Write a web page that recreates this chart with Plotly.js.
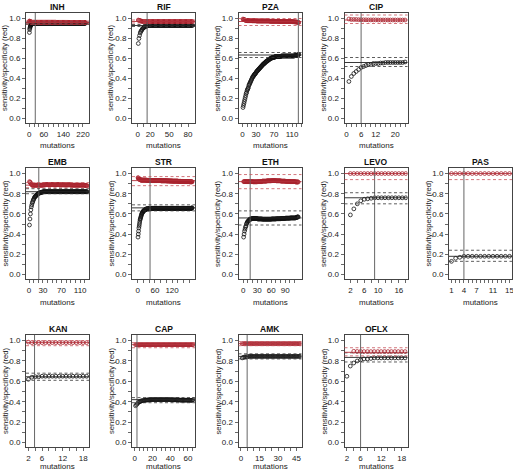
<!DOCTYPE html>
<html><head><meta charset="utf-8">
<script src="https://cdn.plot.ly/plotly-3.0.1.min.js"></script>
<style>html,body{margin:0;padding:0;background:#fff}#chart{width:513px;height:473px}</style>
</head><body><div id="chart"></div>
<script>
// ---------- data ----------
const panels=['INH','RIF','PZA','CIP','EMB','STR','ETH','LEVO','PAS','KAN','CAP','AMK','OFLX'];

const inhSens=[.86,.89,.905,.915,.925,.93,.935,.94,.94,.945,
.945,.948,.95,.95,.95,.95,.952,.952,.952,.952,
.953,.953,.953,.953,.953,.953,.953,.953,.953,.953,
.953,.953,.953,.953,.953,.953,.953,.953,.953,.953,
.953,.953,.953,.953,.953,.953,.953,.953,.953,.953,
.953,.953,.953,.953,.953,.953,.953,.953,.953,.953,
.953,.953,.953,.953,.953,.953,.953,.953,.953,.953,
.953,.953,.953,.953,.953,.953,.953,.953,.953,.953,
.953,.953,.953,.953,.953,.953,.953,.953,.953,.953,
.953,.953,.953,.953,.953,.953,.953,.953,.953,.953,
.953,.953,.953,.953,.953,.953,.953,.953,.953,.953,
.953,.953,.953,.953,.953,.953,.953,.953,.953,.953,
.953,.953,.953,.953,.953,.953,.953,.953,.953,.953,
.953,.953,.953,.953,.953,.953,.953,.953,.953,.953,
.953,.953,.953,.953,.953,.953,.953,.953,.953,.953,
.953,.953,.953,.953,.953,.953,.953,.953,.953,.953,
.953,.953,.953,.953,.953,.953,.953,.953,.953,.953,
.953,.953,.953,.953,.953,.953,.953,.953,.953,.953,
.953,.953,.953,.953,.953,.953,.953,.953,.953,.953,
.953,.953,.953,.953,.953,.953,.953,.953,.953,.953,
.953,.953,.953,.953,.953,.953,.953,.953,.953,.953,
.953,.953,.953,.953,.953,.953,.953,.953,.953,.953,
.953,.953,.953,.953,.953,.953,.953,.953,.953,.953];
const inhSpec=[.975,.972,.97,.968,.967,.966,.965,.964,.963,.963,
.962,.962,.962,.962,.962,.962,.962,.962,.962,.962,
.962,.962,.962,.962,.962,.962,.962,.962,.962,.962,
.962,.962,.962,.962,.962,.962,.962,.962,.962,.962,
.962,.962,.962,.962,.962,.962,.962,.962,.962,.962,
.962,.962,.962,.962,.962,.962,.962,.962,.962,.962,
.962,.962,.962,.962,.962,.962,.962,.962,.962,.962,
.962,.962,.962,.962,.962,.962,.962,.962,.962,.962,
.962,.962,.962,.962,.962,.962,.962,.962,.962,.962,
.962,.962,.962,.962,.962,.962,.962,.962,.962,.962,
.962,.962,.962,.962,.962,.962,.962,.962,.962,.962,
.961,.961,.961,.961,.961,.961,.961,.961,.961,.961,
.961,.961,.961,.961,.961,.961,.961,.961,.961,.961,
.961,.961,.961,.961,.961,.961,.961,.961,.961,.961,
.961,.961,.961,.961,.961,.961,.961,.961,.961,.961,
.961,.961,.961,.961,.961,.961,.961,.961,.961,.961,
.96,.96,.96,.96,.96,.96,.96,.96,.96,.96,
.96,.96,.96,.96,.96,.96,.96,.96,.96,.96,
.96,.96,.96,.96,.96,.96,.96,.96,.96,.96,
.96,.96,.96,.96,.96,.96,.96,.96,.96,.96,
.96,.96,.96,.96,.96,.96,.96,.96,.96,.96,
.96,.96,.96,.96,.96,.96,.96,.96,.96,.96,
.96,.96,.96,.96,.96,.96,.96,.96,.96,.96];

const rifSens=[.75,.80,.83,.855,.87,.88,.89,.90,.905,.91,
.915,.92,.92,.925,.925,.928,.93,.93,.93,.93,
.93,.93,.93,.93,.93,.93,.93,.93,.93,.93,
.93,.93,.93,.93,.93,.93,.93,.93,.93,.93,
.93,.93,.93,.93,.93,.93,.93,.93,.93,.93,
.93,.93,.93,.93,.93,.93,.93,.93,.93,.93,
.93,.93,.93,.93,.93,.93,.93,.93,.93,.93,
.93,.93,.93,.93,.93,.93,.93,.93,.93,.93,
.93,.93,.93,.93,.93,.93,.93];
const rifSpec=[.985,.982,.98,.978,.975,.973,.972,.971,.97,.97,
.97,.97,.97,.97,.97,.97,.97,.97,.97,.97,
.97,.97,.97,.97,.97,.97,.97,.97,.97,.97,
.97,.97,.97,.97,.97,.97,.97,.97,.97,.97,
.97,.97,.97,.97,.97,.97,.97,.97,.97,.97,
.97,.97,.97,.97,.97,.97,.97,.97,.97,.97,
.97,.97,.97,.97,.97,.97,.97,.97,.97,.97,
.97,.97,.97,.97,.97,.97,.97,.97,.97,.97,
.97,.97,.97,.97,.97,.97,.97];

const pzaSens=[.11,.13,.15,.17,.19,.21,.23,.25,.26,.28,
.29,.30,.31,.33,.34,.35,.36,.37,.38,.39,
.40,.41,.42,.42,.43,.44,.44,.45,.45,.46,
.47,.47,.48,.48,.49,.49,.50,.50,.51,.51,
.52,.52,.53,.53,.54,.54,.55,.55,.55,.56,
.56,.57,.57,.57,.58,.58,.58,.59,.59,.59,
.60,.60,.60,.60,.61,.61,.61,.61,.61,.61,
.61,.62,.62,.62,.62,.62,.62,.62,.62,.62,
.62,.62,.62,.62,.62,.625,.625,.625,.625,.625,
.625,.625,.625,.625,.625,.625,.625,.625,.625,.625,
.625,.625,.625,.625,.625,.625,.625,.625,.625,.625,
.625,.625,.625,.625,.625,.63,.63,.63,.63,.63,
.63,.635,.635,.64,.64];
const pzaSpec=[.995,.99,.99,.988,.985,.984,.982,.98,.98,.98,
.978,.978,.978,.978,.978,.978,.978,.978,.978,.978,
.977,.977,.977,.977,.977,.977,.977,.977,.977,.977,
.975,.975,.975,.975,.975,.975,.975,.975,.975,.975,
.975,.975,.975,.975,.975,.975,.975,.975,.975,.975,
.975,.975,.975,.975,.975,.975,.975,.975,.975,.975,
.972,.972,.972,.972,.972,.972,.972,.972,.972,.972,
.972,.972,.972,.972,.972,.972,.972,.972,.972,.972,
.97,.97,.97,.97,.97,.97,.97,.97,.97,.97,
.97,.97,.97,.97,.97,.97,.97,.97,.97,.97,
.97,.97,.97,.97,.97,.97,.97,.97,.97,.97,
.968,.968,.968,.967,.967,.966,.966,.965,.965,.965,
.964,.963,.962,.961,.96];

const cipSens=[.37,.42,.45,.47,.49,.51,.52,.53,.54,.54,.55,.55,.55,.555,.555,.56,.56,.56,.56,.56,.56,.56,.56,.565];
const cipSpec=[.995,.99,.99,.99,.988,.988,.987,.987,.986,.986,.986,.986,.985,.985,.985,.985,.985,.985,.985,.985,.985,.985,.985,.985];

const embSens=[.49,.55,.60,.64,.67,.69,.71,.72,.735,.745,
.755,.765,.77,.775,.78,.785,.79,.795,.80,.80,
.805,.805,.81,.81,.81,.815,.815,.815,.815,.82,
.82,.82,.82,.82,.82,.82,.82,.82,.82,.82,
.82,.82,.82,.82,.82,.82,.82,.82,.82,.82,
.82,.82,.82,.82,.82,.82,.82,.82,.82,.82,
.82,.82,.82,.82,.82,.82,.82,.82,.82,.82,
.82,.82,.82,.82,.82,.82,.82,.82,.82,.82,
.82,.82,.82,.82,.82,.82,.82,.82,.82,.82,
.82,.82,.82,.82,.82,.82,.82,.82,.82,.82,
.82,.82,.82,.82,.82,.82,.82,.82,.82,.82,
.82,.82,.82,.82,.82,.82,.82,.82,.82,.82,
.82,.82,.82,.82,.82];
const embSpec=[.92,.915,.91,.90,.895,.89,.885,.885,.88,.88,
.885,.885,.885,.885,.885,.885,.885,.885,.885,.885,
.885,.885,.885,.885,.885,.885,.885,.885,.885,.885,
.89,.89,.89,.89,.89,.89,.89,.89,.89,.89,
.89,.89,.89,.89,.89,.89,.89,.89,.89,.89,
.89,.89,.89,.89,.89,.89,.89,.89,.89,.89,
.89,.89,.89,.89,.89,.89,.89,.89,.89,.89,
.888,.888,.888,.888,.888,.888,.888,.888,.888,.888,
.888,.888,.888,.888,.888,.888,.888,.888,.888,.888,
.885,.885,.885,.885,.885,.885,.885,.885,.885,.885,
.885,.885,.885,.885,.885,.885,.885,.885,.885,.885,
.885,.885,.885,.885,.885,.885,.885,.885,.885,.885,
.882,.882,.88,.88,.88];

const strSens=[.37,.40,.43,.46,.48,.50,.52,.54,.55,.56,
.57,.58,.59,.60,.605,.61,.615,.62,.625,.63,
.63,.635,.635,.64,.64,.64,.645,.645,.645,.65,
.65,.65,.65,.65,.65,.65,.65,.65,.65,.65,
.655,.655,.655,.655,.655,.655,.655,.655,.655,.655,
.655,.655,.655,.655,.655,.655,.655,.655,.655,.655,
.655,.655,.655,.655,.655,.655,.655,.655,.655,.655,
.655,.655,.655,.655,.655,.655,.655,.655,.655,.655,
.655,.655,.655,.655,.655,.655,.655,.655,.655,.655,
.655,.655,.655,.655,.655,.655,.655,.655,.655,.655,
.655,.655,.655,.655,.655,.655,.655,.655,.655,.655,
.655,.655,.655,.655,.655,.655,.655,.655,.655,.655,
.655,.655,.655,.655,.655,.655,.655,.655,.655,.655,
.655,.655,.655,.655,.655,.655,.655,.655,.655,.655,
.655,.655,.655,.655,.655,.655,.655,.655,.655,.655,
.655,.655,.655,.655,.655,.655,.655,.655,.655,.655,
.655,.655,.655,.655,.655,.655,.655,.655,.655,.655,
.655,.655,.655,.655,.655,.655,.655,.655,.655,.655,
.655,.655,.655,.655,.655,.655,.655,.655,.66,.66];
const strSpec=[.96,.955,.95,.95,.945,.945,.94,.94,.94,.937,
.935,.935,.935,.935,.935,.935,.935,.935,.935,.935,
.935,.935,.935,.935,.935,.935,.935,.935,.935,.935,
.933,.933,.933,.933,.933,.933,.933,.933,.933,.933,
.932,.932,.932,.932,.932,.932,.932,.932,.932,.932,
.93,.93,.93,.93,.93,.93,.93,.93,.93,.93,
.93,.93,.93,.93,.93,.93,.93,.93,.93,.93,
.93,.93,.93,.93,.93,.93,.93,.93,.93,.93,
.928,.928,.928,.928,.928,.928,.928,.928,.928,.928,
.928,.928,.928,.928,.928,.928,.928,.928,.928,.928,
.927,.927,.927,.927,.927,.927,.927,.927,.927,.927,
.926,.926,.926,.926,.926,.926,.926,.926,.926,.926,
.925,.925,.925,.925,.925,.925,.925,.925,.925,.925,
.925,.925,.925,.925,.925,.925,.925,.925,.925,.925,
.923,.923,.923,.923,.923,.923,.923,.923,.923,.923,
.922,.922,.922,.922,.922,.922,.922,.922,.922,.922,
.92,.92,.92,.92,.92,.92,.92,.92,.92,.92,
.92,.92,.92,.92,.92,.92,.92,.92,.92,.92,
.918,.918,.918,.918,.918,.918,.918,.918,.918,.918];

const ethSens=[.37,.40,.43,.45,.47,.48,.50,.51,.52,.525,
.53,.535,.54,.545,.55,.55,.55,.55,.555,.555,
.555,.555,.555,.555,.555,.555,.555,.555,.555,.555,
.55,.55,.55,.55,.55,.55,.55,.55,.55,.55,
.548,.548,.548,.548,.548,.548,.548,.548,.548,.548,
.548,.548,.548,.548,.548,.548,.548,.548,.548,.548,
.55,.55,.55,.55,.55,.55,.55,.55,.55,.55,
.552,.552,.552,.552,.552,.552,.552,.552,.552,.552,
.555,.555,.555,.555,.555,.555,.555,.555,.555,.555,
.558,.558,.558,.558,.558,.558,.558,.558,.558,.558,
.56,.56,.56,.56,.56,.56,.56,.56,.56,.56,
.56,.56,.562,.565,.565,.57,.57,.57];
const ethSpec=[.92,.92,.92,.92,.92,.92,.92,.92,.92,.92,
.92,.92,.92,.92,.92,.92,.92,.92,.92,.92,
.918,.918,.918,.918,.918,.918,.918,.918,.918,.918,
.92,.92,.92,.92,.92,.92,.92,.92,.92,.92,
.925,.925,.925,.925,.925,.925,.925,.925,.925,.925,
.928,.928,.928,.928,.928,.928,.928,.928,.928,.928,
.93,.93,.93,.93,.93,.93,.93,.93,.93,.93,
.928,.928,.928,.928,.928,.928,.928,.928,.928,.928,
.925,.925,.925,.925,.925,.925,.925,.925,.925,.925,
.922,.922,.922,.922,.922,.922,.922,.922,.922,.922,
.92,.92,.92,.92,.92,.92,.92,.92,.92,.92,
.92,.918,.918,.915,.915,.918,.918,.915];

const levoSens=[.59,.65,.70,.73,.745,.75,.755,.76,.76,.76,.76,.76,.76,.76,.76,.76,.76];
const levoSpec=[1,1,1,1,1,1,1,1,1,1,1,1,1,1,1,1,1];

const pasSens=[.13,.16,.17,.18,.18,.18,.18,.18,.18,.18,.18,.18,.18,.18,.18];
const pasSpec=[1,1,1,1,1,1,1,1,1,1,1,1,1,1,1];

const kanSens=[.62,.64,.645,.645,.65,.65,.65,.65,.65,.65,.65,.65,.65,.65,.65,.65,.65,.65];
const kanSpec=[.985,.98,.98,.98,.98,.98,.98,.98,.98,.98,.98,.98,.98,.98,.98,.98,.98,.98];

const capSens=[.36,.37,.38,.39,.40,.40,.405,.41,.41,.41,
.413,.415,.415,.417,.417,.418,.418,.42,.42,.42,
.42,.42,.42,.42,.42,.42,.42,.42,.42,.42,
.42,.42,.42,.42,.42,.42,.42,.42,.42,.42,
.418,.418,.418,.418,.418,.418,.418,.418,.418,.418,
.415,.415,.415,.415,.415,.415,.415,.415,.415,.415,
.415,.415,.413,.413,.415,.42];
const capSpec=[.96,.96,.96,.96,.96,.96,.96,.96,.96,.96,
.96,.96,.96,.96,.96,.96,.96,.96,.96,.96,
.96,.96,.96,.96,.96,.96,.96,.96,.96,.96,
.96,.96,.96,.96,.96,.96,.96,.96,.96,.96,
.96,.96,.96,.96,.96,.96,.96,.96,.96,.96,
.96,.96,.96,.96,.96,.96,.96,.96,.96,.96,
.96,.96,.96,.96,.96,.96];

const amkSens=[.83,.835,.84,.84,.84,.845,.845,.845,.845,.845,
.845,.845,.845,.845,.845,.845,.845,.845,.845,.845,
.845,.845,.845,.845,.845,.845,.845,.845,.845,.845,
.845,.845,.845,.845,.845,.845,.845,.845,.845,.845,
.845,.845,.845,.845,.845,.845,.845,.845];
const amkSpec=[.97,.97,.97,.97,.97,.97,.97,.97,.97,.97,
.97,.97,.97,.97,.97,.97,.97,.97,.97,.97,
.97,.97,.97,.97,.97,.97,.97,.97,.97,.97,
.97,.97,.97,.97,.97,.97,.97,.97,.97,.97,
.97,.97,.97,.97,.97,.97,.97,.97];

const oflxSens=[.65,.75,.78,.80,.81,.82,.82,.825,.83,.83,.83,.83,.83,.83,.83,.83,.83,.83];
const oflxSpec=[null,null,.895,.893,.893,.892,.892,.892,.892,.892,.892,.892,.892,.892,.892,.892,.892,.892];

const sensSeries=[inhSens,rifSens,pzaSens,cipSens,embSens,strSens,ethSens,levoSens,pasSens,kanSens,capSens,amkSens,oflxSens];
const specSeries=[inhSpec,rifSpec,pzaSpec,cipSpec,embSpec,strSpec,ethSpec,levoSpec,pasSpec,kanSpec,capSpec,amkSpec,oflxSpec];
const xFirst=[1,1,1,1,1,1,1,2,1,2,1,1,2];

// reference lines
const vLine  =[25,15,124,6,21,43,15,9,4,3.8,2.6,5,6];
const sensEst=[.953,.93,.635,.56,.82,.66,.56,.76,.18,.645,.42,.845,.835];
const sensLo =[.94,.92,.61,.52,.80,.63,.49,.70,.13,.61,.39,.82,.79];
const sensHi =[.965,.94,.66,.61,.85,.69,.63,.81,.24,.68,.44,.87,.88];
const specEst=[.96,.97,.97,.985,.885,.93,.92,1.0,1.0,.98,.96,.97,.885];
const specLo =[.945,.955,.93,.95,.86,.88,.85,.94,.94,.95,.93,.95,.85];
const specHi =[.975,.985,1.0,1.035,.91,.97,.99,null,null,1.0,.98,.99,.93];

// axes
const xRange=[[-13,245],[-9,91],[-9,131],[-0.8,25],[-6.5,129],[-20,200],[-10,125],[0.3,18.5],[0.4,15.6],[1.3,19.7],[-3,68],[-2,49],[1.3,19.7]];
const xLabelTicks=[[0,60,140,220],[0,20,50,80],[0,30,70,110],[0,6,12,20],[0,30,70,110],[0,60,120],[0,30,60,90],[2,6,10,16],[1,4,7,11,15],[2,6,12,18],[0,20,40,60],[0,15,30,45],[2,6,12,18]];
const xTickStart=[0,0,0,0,0,0,0,2,1,2,0,0,2];
const xTickEnd=[220,80,130,24,120,180,110,18,15,18,65,45,18];
const xTickStep=[20,10,10,2,10,20,10,2,1,2,5,5,2];
const yTickVals=[0,.1,.2,.3,.4,.5,.6,.7,.8,.9,1];
const yTickText=['0.0','','0.2','','0.4','','0.6','','0.8','','1.0'];

// ---------- layout geometry ----------
const W=513,H=473;
const colLeft=[26,132,238.5,344.5,449], boxW=63;
const rowTop=[13,168,335], rowBot=[123,279,447];
const gridRow=[0,0,0,0,1,1,1,1,1,2,2,2,2];
const gridCol=[0,1,2,3,0,1,2,3,4,0,1,2,3];

const FONT='Liberation Sans, Arial, sans-serif';
const BLACK='#111', RED='#A8232E';
const traces=[], shapes=[], annotations=[];
const layout={width:W,height:H,margin:{l:0,r:0,t:0,b:0},paper_bgcolor:'#fff',plot_bgcolor:'#fff',
  showlegend:false,font:{family:FONT,size:8,color:'#222'}};

panels.forEach((name,i)=>{
  const ax=i===0?'':String(i+1);
  const r=gridRow[i], c=gridCol[i];
  const L=colLeft[c], T=rowTop[r], B=rowBot[r];
  const xs=sensSeries[i].map((_,k)=>xFirst[i]+k);
  traces.push({type:'scatter',mode:'markers',x:xs,y:sensSeries[i],xaxis:'x'+ax,yaxis:'y'+ax,
    marker:{symbol:'circle-open',size:3.8,color:BLACK,line:{width:0.8,color:BLACK}},cliponaxis:true});
  traces.push({type:'scatter',mode:'markers',x:specSeries[i].map((_,k)=>xFirst[i]+k),y:specSeries[i],xaxis:'x'+ax,yaxis:'y'+ax,
    marker:{symbol:'circle-open',size:3.8,color:RED,line:{width:0.8,color:RED}},cliponaxis:true});
  const tv=[],tt=[];
  for(let v=xTickStart[i];v<=xTickEnd[i]+1e-9;v+=xTickStep[i]){tv.push(v);tt.push(xLabelTicks[i].includes(v)?String(v):'');}
  layout['xaxis'+ax]={domain:[L/W,(L+boxW)/W],range:xRange[i],anchor:'y'+ax,tickvals:tv,ticktext:tt,
    ticks:'outside',ticklen:3,tickwidth:0.8,tickcolor:'#444',showline:true,mirror:true,linecolor:'#444',linewidth:1,
    showgrid:false,zeroline:false,tickfont:{family:FONT,size:8,color:'#222'},ticklabeloverflow:'allow',fixedrange:true};
  layout['yaxis'+ax]={domain:[1-B/H,1-T/H],range:[-0.045,1.055],anchor:'x'+ax,tickvals:yTickVals,ticktext:yTickText,
    ticks:'outside',ticklen:3,tickwidth:0.8,tickcolor:'#444',showline:true,mirror:true,linecolor:'#444',linewidth:1,
    showgrid:false,zeroline:false,tickfont:{family:FONT,size:8,color:'#222'},ticklabeloverflow:'allow',fixedrange:true};
  const xd='x'+ax+' domain', yd='y'+ax+' domain';
  shapes.push({type:'line',xref:'x'+ax,yref:yd,x0:vLine[i],x1:vLine[i],y0:0,y1:1,line:{color:'#666',width:1}});
  const hl=(v,col,dash,w)=>{ if(v===null) return; shapes.push({type:'line',xref:xd,yref:'y'+ax,x0:0,x1:1,y0:v,y1:v,line:{color:col,width:w,dash:dash}}); };
  hl(sensEst[i],'#222','solid',0.9);
  hl(sensLo[i],'#333','3px,2.5px',0.8);
  hl(sensHi[i],'#333','3px,2.5px',0.8);
  hl(specEst[i],'#B2303A','solid',0.9);
  hl(specLo[i],'#C8545C','3px,2.5px',0.8);
  hl(specHi[i],'#C8545C','3px,2.5px',0.8);
  annotations.push({text:'<b>'+name+'</b>',xref:'paper',yref:'paper',x:(L+boxW/2)/W,y:1-(T-6.5)/H,
    showarrow:false,xanchor:'center',yanchor:'middle',font:{family:FONT,size:8.5,color:'#111'}});
  annotations.push({text:'sensitivity/specificity (red)',xref:'paper',yref:'paper',x:(L-21)/W,y:1-((T+B)/2)/H,
    showarrow:false,textangle:-90,xanchor:'center',yanchor:'middle',font:{family:FONT,size:7.6,color:'#222'}});
  const my=Math.min(B+23,466.5);
  annotations.push({text:'mutations',xref:'paper',yref:'paper',x:(L+boxW/2)/W,y:1-my/H,
    showarrow:false,xanchor:'center',yanchor:'middle',font:{family:FONT,size:8,color:'#222'}});
});
layout.shapes=shapes; layout.annotations=annotations;
Plotly.newPlot('chart',traces,layout,{staticPlot:true,displayModeBar:false});
</script>
</body></html>
